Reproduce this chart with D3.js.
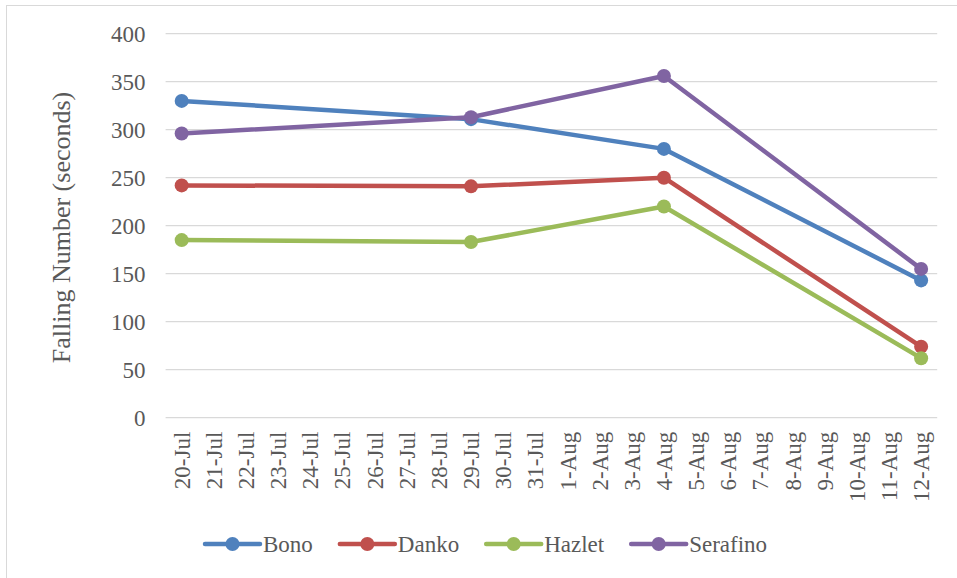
<!DOCTYPE html>
<html>
<head>
<meta charset="utf-8">
<script src="https://cdn.jsdelivr.net/npm/d3@7"></script>
<style>
  html, body { margin: 0; padding: 0; background: #fff; }
  svg { display: block; }
</style>
</head>
<body>
<svg id="chart" width="957" height="578"></svg>
<script>
const categories = ["20-Jul","21-Jul","22-Jul","23-Jul","24-Jul","25-Jul","26-Jul","27-Jul","28-Jul","29-Jul","30-Jul","31-Jul","1-Aug","2-Aug","3-Aug","4-Aug","5-Aug","6-Aug","7-Aug","8-Aug","9-Aug","10-Aug","11-Aug","12-Aug"];
const sampleDates = ["20-Jul","29-Jul","4-Aug","12-Aug"];
const seriesNames = ["Bono","Danko","Hazlet","Serafino"];
const bono = [330, 311, 280, 143];
const danko = [242, 241, 250, 74];
const hazlet = [185, 183, 220, 62];
const serafino = [296, 313, 356, 155];
const yTicks = [0, 50, 100, 150, 200, 250, 300, 350, 400];
const colors = ["#4F81BD", "#C0504D", "#9BBB59", "#8064A2"];

const FONT = "Liberation Serif, Tinos, Times New Roman, Times, DejaVu Serif, serif";

const seriesValues = [bono, danko, hazlet, serafino];
const series = seriesNames.map((n, i) => ({
  name: n, color: colors[i],
  points: sampleDates.map((d, j) => ({ date: d, value: seriesValues[i][j] }))
}));

const svg = d3.select("#chart").attr("font-family", FONT);

// outer chart border (left/top visible)
svg.append("rect").attr("x", 6.5).attr("y", 5.5).attr("width", 960).attr("height", 590)
  .attr("fill", "none").attr("stroke", "#d9d9d9").attr("stroke-width", 1);

const plot = { left: 165.6, right: 937.2, top: 33.7, bottom: 417.7 };

const x = d3.scaleBand().domain(categories).range([plot.left, plot.right]);
const y = d3.scaleLinear().domain([0, 400]).range([plot.bottom, plot.top]);
const cx = d => x(d) + x.bandwidth() / 2;

// gridlines
svg.append("g").selectAll("line").data(yTicks).join("line")
  .attr("x1", plot.left).attr("x2", plot.right)
  .attr("y1", d => y(d)).attr("y2", d => y(d))
  .attr("stroke", "#d9d9d9").attr("stroke-width", 1.3);

// y axis labels
const yAxis = d3.axisLeft(y).tickValues(yTicks).tickSize(0).tickPadding(20);
const gy = svg.append("g").attr("transform", `translate(${plot.left},0)`).call(yAxis)
  .attr("font-family", FONT).attr("font-size", 23);
gy.select(".domain").remove();
gy.selectAll("text").attr("fill", "#595959");

// x axis labels
const xAxis = d3.axisBottom(x).tickSize(0).tickPadding(0);
const gx = svg.append("g").attr("transform", `translate(0,${plot.bottom})`).call(xAxis)
  .attr("font-family", FONT).attr("font-size", 23);
gx.select(".domain").remove();
gx.selectAll("text")
  .attr("fill", "#595959")
  .attr("text-anchor", "end")
  .attr("transform", "rotate(-90)")
  .attr("x", -14).attr("y", 0).attr("dy", "0.35em");

// y title
svg.append("text")
  .attr("transform", "translate(70,227.5) rotate(-90)")
  .attr("text-anchor", "middle")
  .attr("font-size", 26).attr("fill", "#595959")
  .text("Falling Number (seconds)");

// lines
const line = d3.line().x(d => cx(d.date)).y(d => y(d.value));
const gs = svg.append("g").selectAll("g").data(series).join("g");
gs.append("path").attr("d", d => line(d.points))
  .attr("fill", "none").attr("stroke", d => d.color).attr("stroke-width", 4.5)
  .attr("stroke-linejoin", "round").attr("stroke-linecap", "round");
gs.selectAll("circle").data(d => d.points.map(p => ({ ...p, color: d.color }))).join("circle")
  .attr("cx", d => cx(d.date)).attr("cy", d => y(d.value)).attr("r", 7)
  .attr("fill", d => d.color);

// legend
const legend = svg.append("g");
let lx = 205;
const ly = 544;
series.forEach(s => {
  const g = legend.append("g");
  g.append("line").attr("x1", lx).attr("x2", lx + 55).attr("y1", ly).attr("y2", ly)
    .attr("stroke", s.color).attr("stroke-width", 4.5).attr("stroke-linecap", "round");
  g.append("circle").attr("cx", lx + 27.5).attr("cy", ly).attr("r", 7).attr("fill", s.color);
  const t = g.append("text").attr("x", lx + 58).attr("y", ly).attr("dy", "0.35em")
    .attr("font-size", 23).attr("fill", "#595959").text(s.name);
  lx = lx + 58 + t.node().getComputedTextLength() + 27;
});
</script>
</body>
</html>
